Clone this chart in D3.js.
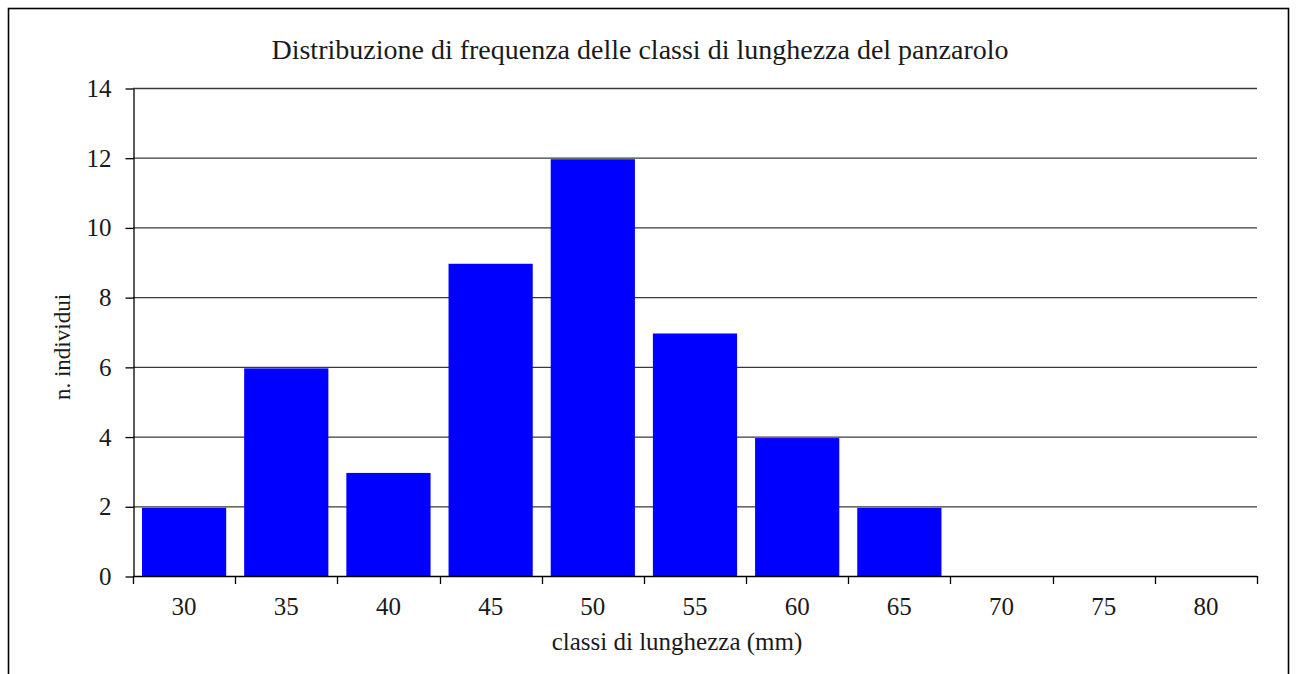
<!DOCTYPE html>
<meta charset="utf-8">
<title>Distribuzione di frequenza</title>
<script src="https://cdn.jsdelivr.net/npm/d3@7"></script>
<style>
  body { margin: 0; background: #fff; }
  text { font-family: Garamond, "Liberation Serif", serif; fill: #1a1a1a; }
</style>
<body>
<script>

var classi = ["30", "35", "40", "45", "50", "55", "60", "65", "70", "75", "80"]
   ,individui = [2, 6, 3, 9, 12, 7, 4, 2, 0, 0, 0]
   ,yTicks = [0, 2, 4, 6, 8, 10, 12, 14];

var svg_w = 1298
   ,svg_h = 674
   ,plotL = 133, plotR = 1257, plotT = 88, plotB = 576;

var svg = d3.select("body").append("svg")
            .attr("width", svg_w)
            .attr("height", svg_h);

// outer frame of the chart
svg.append("rect")
  .attr("x", 8.5).attr("y", 8.5)
  .attr("width", 1280).attr("height", 700)
  .attr("fill", "none")
  .attr("stroke", "#000")
  .attr("stroke-width", 1.6);

var x = d3.scaleBand()
  .domain(classi)
  .range([plotL, plotR])
  .paddingInner(0.176)
  .paddingOuter(0.088);

var y = d3.scaleLinear()
  .domain([0, 14])
  .range([plotB, plotT]);

// gridlines
svg.selectAll(".grid")
  .data(yTicks.slice(1))
  .enter().append("line")
  .attr("class", "grid")
  .attr("x1", plotL).attr("x2", plotR)
  .attr("y1", function (d) { return y(d) + 0.5 })
  .attr("y2", function (d) { return y(d) + 0.5 })
  .attr("stroke", "#3a3a3a")
  .attr("stroke-width", 1.3);

// bars
svg.selectAll(".bar")
  .data(individui)
  .enter().append("rect")
  .attr("class", "bar")
  .attr("x", function (d, i) { return x(classi[i]) })
  .attr("width", x.bandwidth())
  .attr("y", function (d) { return y(d) + 1.5 })
  .attr("height", function (d) { return Math.max(0, y(0) - y(d) - 1.5) })
  .attr("fill", "#0000ff");

// y axis
var yAxis = svg.append("g")
  .attr("transform", "translate(" + (plotL + 0.5) + ",0.5)")
  .call(d3.axisLeft(y).tickValues(yTicks).tickSize(8).tickPadding(14).tickSizeOuter(0));
yAxis.select(".domain").attr("stroke", "#000").attr("stroke-width", 1.3);
yAxis.selectAll(".tick line").attr("stroke", "#000").attr("stroke-width", 1.3);
yAxis.selectAll(".tick text")
  .attr("font-size", 25)
  .attr("font-family", "Garamond, 'Liberation Serif', serif")
  .attr("fill", "#1a1a1a");

// x axis: ticks on the class boundaries
var bounds = classi.map(function (c) { return x(c) - x.step() * x.paddingInner() / 2 });
bounds.push(plotR);

var xAxis = svg.append("g");
xAxis.append("line")
  .attr("x1", plotL).attr("x2", plotR)
  .attr("y1", plotB + 0.5).attr("y2", plotB + 0.5)
  .attr("stroke", "#000").attr("stroke-width", 1.5);
xAxis.selectAll(".xtick")
  .data(bounds)
  .enter().append("line")
  .attr("class", "xtick")
  .attr("x1", function (d) { return Math.round(d) + 0.5 })
  .attr("x2", function (d) { return Math.round(d) + 0.5 })
  .attr("y1", plotB).attr("y2", plotB + 8)
  .attr("stroke", "#000").attr("stroke-width", 1.3);
xAxis.selectAll(".xlabel")
  .data(classi)
  .enter().append("text")
  .attr("class", "xlabel")
  .attr("x", function (d) { return x(d) + x.bandwidth() / 2 })
  .attr("y", 615)
  .attr("text-anchor", "middle")
  .attr("font-size", 25)
  .text(function (d) { return d });

// titles
svg.append("text")
  .attr("x", 640).attr("y", 59)
  .attr("text-anchor", "middle")
  .attr("font-size", 28)
  .text("Distribuzione di frequenza delle classi di lunghezza del panzarolo");

svg.append("text")
  .attr("x", 677).attr("y", 650)
  .attr("text-anchor", "middle")
  .attr("font-size", 25)
  .text("classi di lunghezza (mm)");

svg.append("text")
  .attr("transform", "translate(70,347) rotate(-90)")
  .attr("text-anchor", "middle")
  .attr("font-size", 23)
  .text("n. individui");

</script>
